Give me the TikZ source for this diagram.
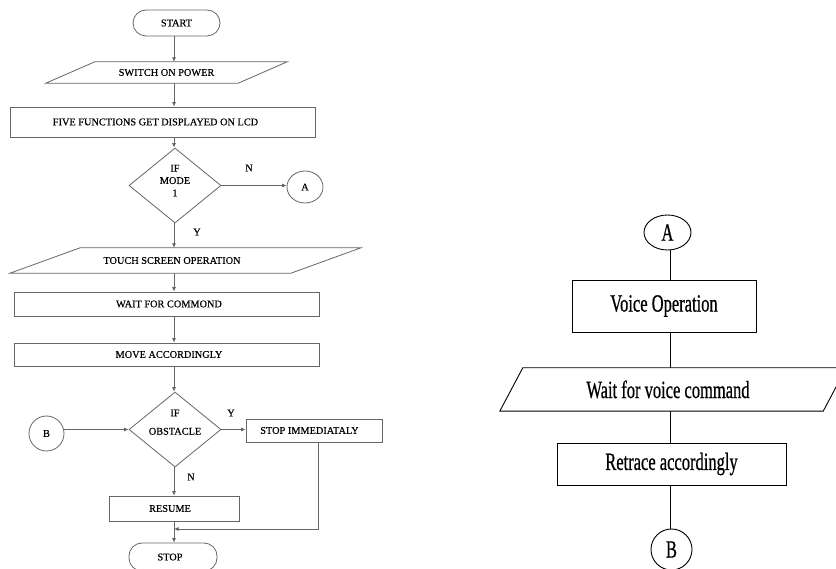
\documentclass[tikz,border=0pt]{standalone}
\usepackage{fontspec}
\setmainfont{Liberation Serif}
\newfontfamily\lfont[FakeBold=0.4]{Liberation Serif}
\newfontfamily\rfont[FakeBold=0.8]{Liberation Serif}
\usetikzlibrary{arrows.meta,shapes.geometric}
\newcommand{\lsz}{\lfont\fontsize{10.3pt}{12.4pt}\selectfont}
\newcommand{\rtxt}[1]{\scalebox{1}[1.5]{\rfont\fontsize{16.5pt}{19pt}\selectfont #1}}
\begin{document}
\begin{tikzpicture}[x=1pt,y=-1pt,
  lline/.style={draw=black!60,line width=0.8pt},
  rline/.style={draw=black,line width=0.9pt},
  arr/.style={lline,-{Latex[length=4.5pt,width=4pt,fill=black!85]}},
  lbox/.style={lline,rectangle,inner sep=0pt,font=\lsz},
  ghost/.style={rectangle,inner sep=0pt,font=\lsz},
  term/.style={lline,rectangle,rounded corners=13pt,inner sep=0pt,font=\lsz},
  ldia/.style={lline,diamond,inner sep=0pt,font=\lsz,align=center},
  lcirc/.style={lline,ellipse,inner sep=0pt,font=\lsz},
  rbox/.style={rline,rectangle,inner sep=0pt},
  rcirc/.style={rline,ellipse,inner sep=0pt},
  lab/.style={font=\lsz,inner sep=0pt}]
\useasboundingbox (0,0) rectangle (836,569);
\clip (0,0) rectangle (836,569);
\fill[white] (0,0) rectangle (836,569);
\coordinate (ax) at (174,0);
\coordinate (axr) at (670,0);
% ---------- left flowchart ----------
\node[term,minimum width=87pt,minimum height=26pt] (start) at (176.5,23) {START};
\node[ghost,minimum width=192pt,minimum height=21pt] (sw) at (166.5,72.5) {SWITCH ON POWER};
\draw[lline] ([xshift=24.5pt]sw.north west) -- ([xshift=24.5pt]sw.north east) -- ([xshift=-24.5pt]sw.south east) -- ([xshift=-24.5pt]sw.south west) -- cycle;
\node[lbox,minimum width=305pt,minimum height=30pt] (five) at (162.5,122) {\hspace*{-14pt}FIVE FUNCTIONS GET DISPLAYED ON LCD};
\node[ldia,minimum width=92pt,minimum height=75pt] (d1) at (175,185.5) {\raisebox{1.5pt}[0pt][0pt]{\begin{tabular}{@{}c@{}}IF\\MODE\\1\end{tabular}}};
\node[lcirc,minimum width=36pt,minimum height=32pt] (al) at (305,187) {A};
\node[ghost,minimum width=280.5pt,minimum height=25pt] (ts) at (185.5,260.5) {\hspace*{-27pt}TOUCH SCREEN OPERATION};
\draw[lline] ([xshift=35pt]ts.north west) -- ([xshift=35pt]ts.north east) -- ([xshift=-35pt]ts.south east) -- ([xshift=-35pt]ts.south west) -- cycle;
\node[lbox,minimum width=305pt,minimum height=24pt] (wait) at (166.5,304) {\hspace*{5pt}WAIT FOR COMMOND};
\node[lbox,minimum width=305pt,minimum height=23pt] (move) at (166.5,354.5) {\hspace*{5pt}MOVE ACCORDINGLY};
\node[ldia,minimum width=92pt,minimum height=75pt] (d2) at (175,429.5) {\raisebox{4pt}[0pt][0pt]{\begin{tabular}{@{}c@{}}IF\\[6pt]OBSTACLE\end{tabular}}};
\node[lcirc,minimum width=35pt,minimum height=35pt] (bl) at (46.5,433.5) {B};
\node[lbox,minimum width=136pt,minimum height=23pt] (stopimm) at (314,430.5) {\hspace*{-9pt}STOP IMMEDIATALY};
\node[lbox,minimum width=130pt,minimum height=25pt] (resume) at (174,508.5) {\hspace*{-8pt}RESUME};
\node[term,minimum width=88pt,minimum height=28pt] (stop) at (173,557) {\hspace*{-6pt}STOP};
\coordinate (join) at (174,529);
% connectors
\draw[arr] (start.south -| ax) -- (sw.north -| ax);
\draw[arr] (sw.south -| ax) -- (five.north -| ax);
\draw[arr] (five.south -| ax) -- (d1.north -| ax);
\draw[arr] (d1.east) -- (d1.east -| al.west);
\draw[arr] (d1.south -| ax) -- (ts.north -| ax);
\draw[arr] (ts.south -| ax) -- (wait.north -| ax);
\draw[arr] (wait.south -| ax) -- (move.north -| ax);
\draw[arr] (move.south -| ax) -- (d2.north -| ax);
\draw[arr] (bl.east |- d2.west) -- (d2.west);
\draw[arr] (d2.east) -- (d2.east -| stopimm.west);
\draw[arr] (d2.south -| ax) -- (resume.north -| ax);
\draw[arr] ([xshift=4pt]stopimm.south) |- (join);
\draw[arr] (resume.south -| ax) -- (stop.north -| ax);
% labels
\node[lab] (n1) at (249,168) {N};
\node[lab] (y1) at (197,232) {Y};
\node[lab] (y2) at (231,413) {Y};
\node[lab] (n2) at (191,477) {N};
% ---------- right flowchart ----------
\node[rcirc,minimum width=47pt,minimum height=35pt] (ar) at (667.5,232.5) {\rtxt{A}};
\node[rbox,minimum width=184pt,minimum height=52pt] (voice) at (664,306) {\rtxt{Voice Operation}};
\node[rectangle,inner sep=0pt,minimum width=323pt,minimum height=43pt] (wv) at (673,389.5) {\hspace*{-10pt}\rtxt{Wait for voice command}};
\draw[rline] ([xshift=11.5pt]wv.north west) -- ([xshift=11.5pt]wv.north east) -- ([xshift=-11.5pt]wv.south east) -- ([xshift=-11.5pt]wv.south west) -- cycle;
\node[rbox,minimum width=229pt,minimum height=42pt] (retrace) at (671.5,464) {\rtxt{Retrace accordingly}};
\node[rcirc,minimum width=41pt,minimum height=41pt] (br) at (671.5,549.5) {\rtxt{B}};
\draw[rline] (ar.south -| axr) -- (voice.north -| axr);
\draw[rline] (voice.south -| axr) -- (wv.north -| axr);
\draw[rline] (wv.south -| axr) -- (retrace.north -| axr);
\draw[rline] (retrace.south -| axr) -- (br.north -| axr);
\end{tikzpicture}
\end{document}
